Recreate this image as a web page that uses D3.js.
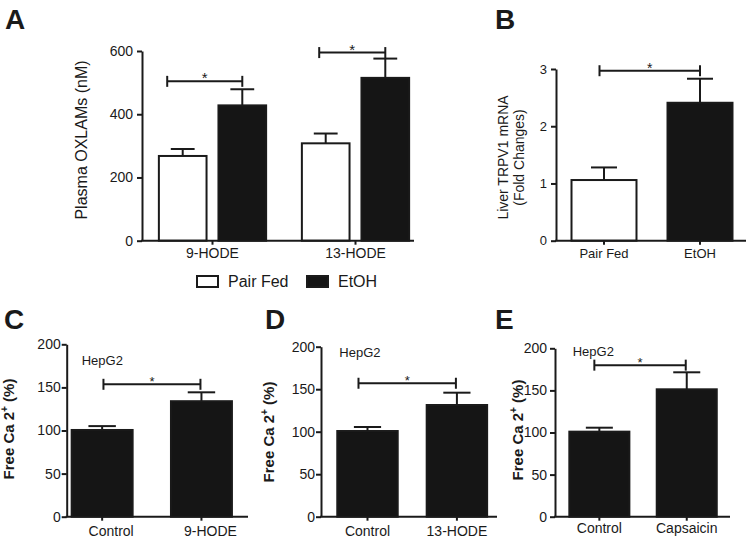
<!DOCTYPE html>
<html><head><meta charset="utf-8">
<script src="https://cdn.jsdelivr.net/npm/d3@7"></script>
<style>
body{margin:0;background:#fff}
svg{display:block}
text{font-family:"Liberation Sans",Arial,Helvetica,sans-serif;fill:#1a1a1a}
</style>
</head><body>
<svg id="chart" width="751" height="538"></svg>
<script>
// ---------- DATA ----------
// Panel A: plasma OXLAMs (nM)
const aGroups = ["9-HODE", "13-HODE"];
const aSeries = ["Pair Fed", "EtOH"];
const aPairFed = [268, 308];
const aPairFedErr = [22, 31];
const aEtOH = [428, 515];
const aEtOHErr = [51, 61];
const aTicks = [0, 200, 400, 600];
const aSig = [504, 595];

// Panel B: liver TRPV1 mRNA (fold changes)
const bCategories = ["Pair Fed", "EtOH"];
const bValues = [1.06, 2.41];
const bErr = [0.22, 0.42];
const bTicks = [0, 1, 2, 3];
const bSig = 2.97;

// Panels C, D, E: free Ca2+ (%) in HepG2
const caTicks = [0, 50, 100, 150, 200];
const cCategories = ["Control", "9-HODE"];
const cValues = [100.6, 134];
const cErr = [4.5, 10.3];
const cSig = 153.6;
const dCategories = ["Control", "13-HODE"];
const dValues = [100.8, 131.4];
const dErr = [4.7, 14.5];
const dSig = 157;
const eCategories = ["Control", "Capsaicin"];
const eValues = [101, 151.3];
const eErr = [4.7, 20.2];
const eSig = 180;

// ---------- DRAWING ----------
const INK = "#1a1a1a";
const FILL = "#151515";
const svg = d3.select("#chart");

function yAxis(g, y, ticks, x0, tickPad, fs) {
  const ax = g.append("g").attr("transform", `translate(${x0},0)`)
    .call(d3.axisLeft(y).tickValues(ticks).tickSize(5).tickSizeOuter(0).tickPadding(tickPad).tickFormat(d3.format("d")));
  ax.select(".domain").attr("stroke", INK).attr("stroke-width", 2);
  ax.selectAll(".tick line").attr("stroke", INK).attr("stroke-width", 2);
  ax.selectAll(".tick text").attr("font-size", fs).attr("fill", INK)
    .attr("font-family", '"Liberation Sans",Arial,sans-serif');
}

function xAxis(g, x, y0, x0, xEnd, fs, base, dx) {
  g.append("line").attr("x1", x0 - 1).attr("x2", xEnd).attr("y1", y0).attr("y2", y0)
    .attr("stroke", INK).attr("stroke-width", 2);
  const ax = g.append("g").attr("transform", `translate(0,${y0})`)
    .call(d3.axisBottom(x).tickSize(4).tickSizeOuter(0));
  ax.select(".domain").remove();
  ax.selectAll(".tick line").attr("stroke", INK).attr("stroke-width", 2);
  ax.selectAll(".tick text").attr("font-size", fs).attr("fill", INK)
    .attr("font-family", '"Liberation Sans",Arial,sans-serif')
    .attr("y", base).attr("dy", null).attr("dx", dx || 0);
}

function errorBar(g, cx, y, v, e, capW) {
  g.append("line").attr("x1", cx).attr("x2", cx).attr("y1", y(v)).attr("y2", y(v + e))
    .attr("stroke", INK).attr("stroke-width", 2);
  g.append("line").attr("x1", cx - capW / 2).attr("x2", cx + capW / 2).attr("y1", y(v + e)).attr("y2", y(v + e))
    .attr("stroke", INK).attr("stroke-width", 2);
}

function bracket(g, xa, xb, yy, fs) {
  g.append("line").attr("x1", xa).attr("x2", xb).attr("y1", yy).attr("y2", yy)
    .attr("stroke", INK).attr("stroke-width", 2);
  [xa, xb].forEach(xx => g.append("line").attr("x1", xx).attr("x2", xx)
    .attr("y1", yy - 5.5).attr("y2", yy + 5.5).attr("stroke", INK).attr("stroke-width", 2));
  g.append("text").attr("x", (xa + xb) / 2).attr("y", yy + 2).attr("text-anchor", "middle")
    .attr("font-size", fs).text("*");
}

function letter(t, x, y) {
  svg.append("text").attr("x", x).attr("y", y).attr("font-size", 28).attr("font-weight", "bold")
    .attr("fill", "#111").text(t);
}

// ----- Panel A -----
(function () {
  const g = svg.append("g");
  const x0 = 142, y0 = 240.7;
  const y = d3.scaleLinear().domain([0, 600]).range([y0, 51]);
  const x = d3.scaleBand().domain(aGroups).range([141, 427]).paddingInner(0.25).paddingOuter(0.125);
  const xs = d3.scaleBand().domain(aSeries).range([0, x.bandwidth()]).paddingInner(0.2);
  const rows = aGroups.map((grp, i) => ({ grp, vals: [[aSeries[0], aPairFed[i], aPairFedErr[i]], [aSeries[1], aEtOH[i], aEtOHErr[i]]] }));
  rows.forEach((r, i) => {
    r.vals.forEach(([s, v, e], j) => {
      const bx = x(r.grp) + xs(s), bw = xs.bandwidth();
      errorBar(g, bx + bw / 2, y, v, e, bw * 0.5);
      g.append("rect").attr("x", bx).attr("y", y(v)).attr("width", bw).attr("height", y0 - y(v))
        .attr("fill", j === 0 ? "#fff" : FILL).attr("stroke", INK).attr("stroke-width", 2);
    });
    const left = x(r.grp) + xs(aSeries[0]) + xs.bandwidth() / 2 - (i === 0 ? 15.5 : 6.5);
    const right = x(r.grp) + xs(aSeries[1]) + xs.bandwidth() / 2;
    bracket(g, left, right, y(aSig[i]), 15);
  });
  yAxis(g, y, aTicks, x0, 4, 14);
  xAxis(g, x, y0, x0, 414, 14, 17.5);
  g.append("text").attr("transform", "translate(87,140) rotate(-90)").attr("text-anchor", "middle")
    .attr("font-size", 16).text("Plasma OXLAMs (nM)");
  // legend
  const lg = g.append("g");
  aSeries.forEach((s, j) => {
    const lx = [197, 307][j];
    lg.append("rect").attr("x", lx).attr("y", 276).attr("width", 21).attr("height", 11)
      .attr("fill", j === 0 ? "#fff" : FILL).attr("stroke", INK).attr("stroke-width", 2);
    lg.append("text").attr("x", lx + 31).attr("y", 287).attr("font-size", 16).text(s);
  });
  letter("A", 5, 29);
})();

// ----- Panel B -----
(function () {
  const g = svg.append("g");
  const x0 = 556, y0 = 240.7;
  const y = d3.scaleLinear().domain([0, 3]).range([y0, 69]);
  const x = d3.scaleBand().domain(bCategories).range([556, 748]).paddingInner(0.323).paddingOuter(0.1615);
  bCategories.forEach((c, i) => {
    const bx = x(c), bw = x.bandwidth();
    errorBar(g, bx + bw / 2, y, bValues[i], bErr[i], bw * 0.4);
    g.append("rect").attr("x", bx).attr("y", y(bValues[i])).attr("width", bw).attr("height", y0 - y(bValues[i]))
      .attr("fill", i === 0 ? "#fff" : FILL).attr("stroke", INK).attr("stroke-width", 2);
  });
  bracket(g, x(bCategories[0]) + x.bandwidth() / 2 - 4.5, x(bCategories[1]) + x.bandwidth() / 2, y(bSig), 14);
  yAxis(g, y, bTicks, x0, 4, 13);
  xAxis(g, x, y0, x0, 746, 13, 17.5);
  g.append("text").attr("transform", "translate(507.5,157.5) rotate(-90)").attr("text-anchor", "middle")
    .attr("font-size", 14).text("Liver TRPV1 mRNA");
  g.append("text").attr("transform", "translate(523.5,157.5) rotate(-90)").attr("text-anchor", "middle")
    .attr("font-size", 14).text("(Fold Changes)");
  letter("B", 495, 29);
})();

// ----- Panels C, D, E -----
function caPanel(cats, vals, errs, sig, L) {
  const g = svg.append("g");
  const y0 = 516.7;
  const y = d3.scaleLinear().domain([0, 200]).range([y0, L.yTop]);
  const x = d3.scaleBand().domain(cats).range(L.xr).paddingInner(L.pi).paddingOuter(L.po);
  cats.forEach((c, i) => {
    const bx = x(c), bw = x.bandwidth();
    errorBar(g, bx + bw / 2 + (L.errDx ? L.errDx[i] : 0), y, vals[i], errs[i], bw * 0.45);
    g.append("rect").attr("x", bx).attr("y", y(vals[i])).attr("width", bw).attr("height", y0 - y(vals[i]))
      .attr("fill", FILL).attr("stroke", INK).attr("stroke-width", 2);
  });
  bracket(g, x(cats[0]) + x.bandwidth() / 2 + L.bl, x(cats[1]) + x.bandwidth() / 2 - 1, y(sig), 13);
  yAxis(g, y, caTicks, L.xr[0], L.tp, 14);
  xAxis(g, x, y0, L.xr[0], L.xEnd, 14, L.xBase, L.xdx);
  const t = g.append("text").attr("transform", `translate(${L.yl},${L.ylc}) rotate(-90)`).attr("text-anchor", "middle")
    .attr("font-size", 15).attr("font-weight", "bold");
  t.append("tspan").text("Free Ca 2");
  t.append("tspan").attr("font-size", 10).attr("dy", -6).text("+");
  t.append("tspan").attr("dy", 6).text(" (%)");
  g.append("text").attr("x", L.hx).attr("y", L.hy).attr("font-size", 13).text("HepG2");
  letter(L.letter, L.lx, 329);
}

caPanel(cCategories, cValues, cErr, cSig, {
  xr: [66.7, 236.9], pi: 0.386, po: 0.05, xEnd: 248, yTop: 344.3, tp: 1,
  bl: 1.3, yl: 14, ylc: 429, hx: 81.7, hy: 365, letter: "C", lx: 4, xBase: 19.5, xdx: 9
});
caPanel(dCategories, dValues, dErr, dSig, {
  xr: [321, 503.4], pi: 0.324, po: 0.182, xEnd: 497, yTop: 346.7, tp: 1,
  bl: -9, yl: 274, ylc: 432, hx: 339.3, hy: 357, letter: "D", lx: 265, xBase: 19.5, xdx: 0
});
caPanel(eCategories, eValues, eErr, eSig, {
  xr: [555, 731.1], pi: 0.313, po: 0.164, xEnd: 730, yTop: 348.3, tp: 3,
  bl: -5, yl: 523, ylc: 430, hx: 572.7, hy: 356, letter: "E", lx: 495, xBase: 16, xdx: 0
});
</script>
</body></html>
